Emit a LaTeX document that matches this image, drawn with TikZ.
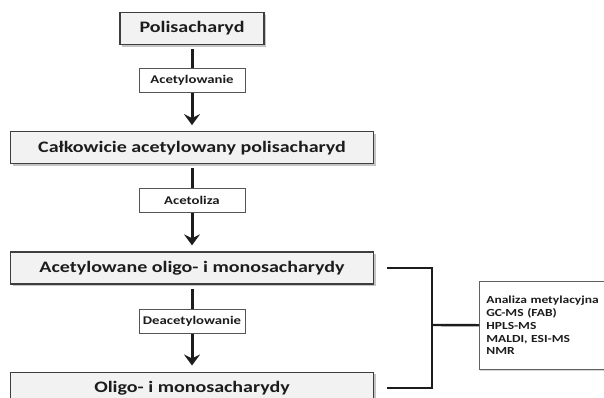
\documentclass[tikz,border=0pt]{standalone}
\usepackage{fontspec}
\setmainfont{Carlito}[FakeStretch=1.25]
\usetikzlibrary{arrows.meta, positioning, shadows}
\definecolor{boxFill}{RGB}{242,242,242}
\definecolor{ink}{RGB}{28,28,28}
\tikzset{
  mainbox/.style={
    draw=ink!85,
    line width=1.2pt,
    fill=boxFill,
    align=center,
    minimum width=363pt,
    minimum height=32pt,
    font=\fontsize{16}{19}\selectfont\bfseries,
    text=ink,
    drop shadow={shadow xshift=2pt, shadow yshift=-2pt, opacity=.45}
  },
  stepbox/.style={
    draw=ink!75,
    line width=.7pt,
    fill=white,
    minimum width=106pt,
    minimum height=24pt,
    font=\fontsize{11.8}{13}\selectfont\bfseries,
    text=ink
  },
  listbox/.style={
    draw=ink!70,
    line width=.7pt,
    fill=white,
    align=left,
    text width=124pt,
    minimum height=88pt,
    inner xsep=7pt,
    font=\fontsize{10.8}{12.8}\selectfont\bfseries,
    text=ink,
    drop shadow={shadow xshift=1pt, shadow yshift=-1pt, opacity=.3}
  },
  flow/.style={-{Stealth[length=11pt,width=16pt,inset=4pt]}, line width=3pt, draw=ink, shorten <=4pt, shorten >=6pt},
  bracket/.style={line width=2.4pt, draw=ink}
}
\begin{document}
\begin{tikzpicture}[x=1pt, y=1pt]
  \useasboundingbox (0,0) rectangle (604,-397);
  \fill[white] (0,0) rectangle (604,-397);

  \node[mainbox, minimum width=144pt] (poli) at (192,-28.5) {Polisacharyd};
  \node[mainbox, below=86pt of poli] (calk) {Całkowicie acetylowany polisacharyd};
  \node[mainbox, below=87pt of calk] (acet) {Acetylowane oligo- i monosacharydy};
  \node[mainbox, below=87pt of acet] (oligo) {Oligo- i monosacharydy};

  \draw[flow] (poli) -- node[stepbox, pos=.41] (acl) {Acetylowanie} (calk);
  \draw[flow] (calk) -- node[stepbox, pos=.41] (acz) {Acetoliza} (acet);
  \draw[flow] (acet) -- node[stepbox, pos=.42] (deac) {Deacetylowanie} (oligo);

  % bracket to the methods
  \coordinate (join) at (432,-325);
  \node[listbox, anchor=west] (analiza) at (479,-325.5) {Analiza metylacyjna\\GC-MS (FAB)\\HPLS-MS\\MALDI, ESI-MS\\NMR};
  \draw[bracket] ([xshift=13pt]acet.east) -| (join) |- ([xshift=13pt]oligo.east);
  \draw[bracket] (join) -- (analiza);
\end{tikzpicture}
\end{document}
